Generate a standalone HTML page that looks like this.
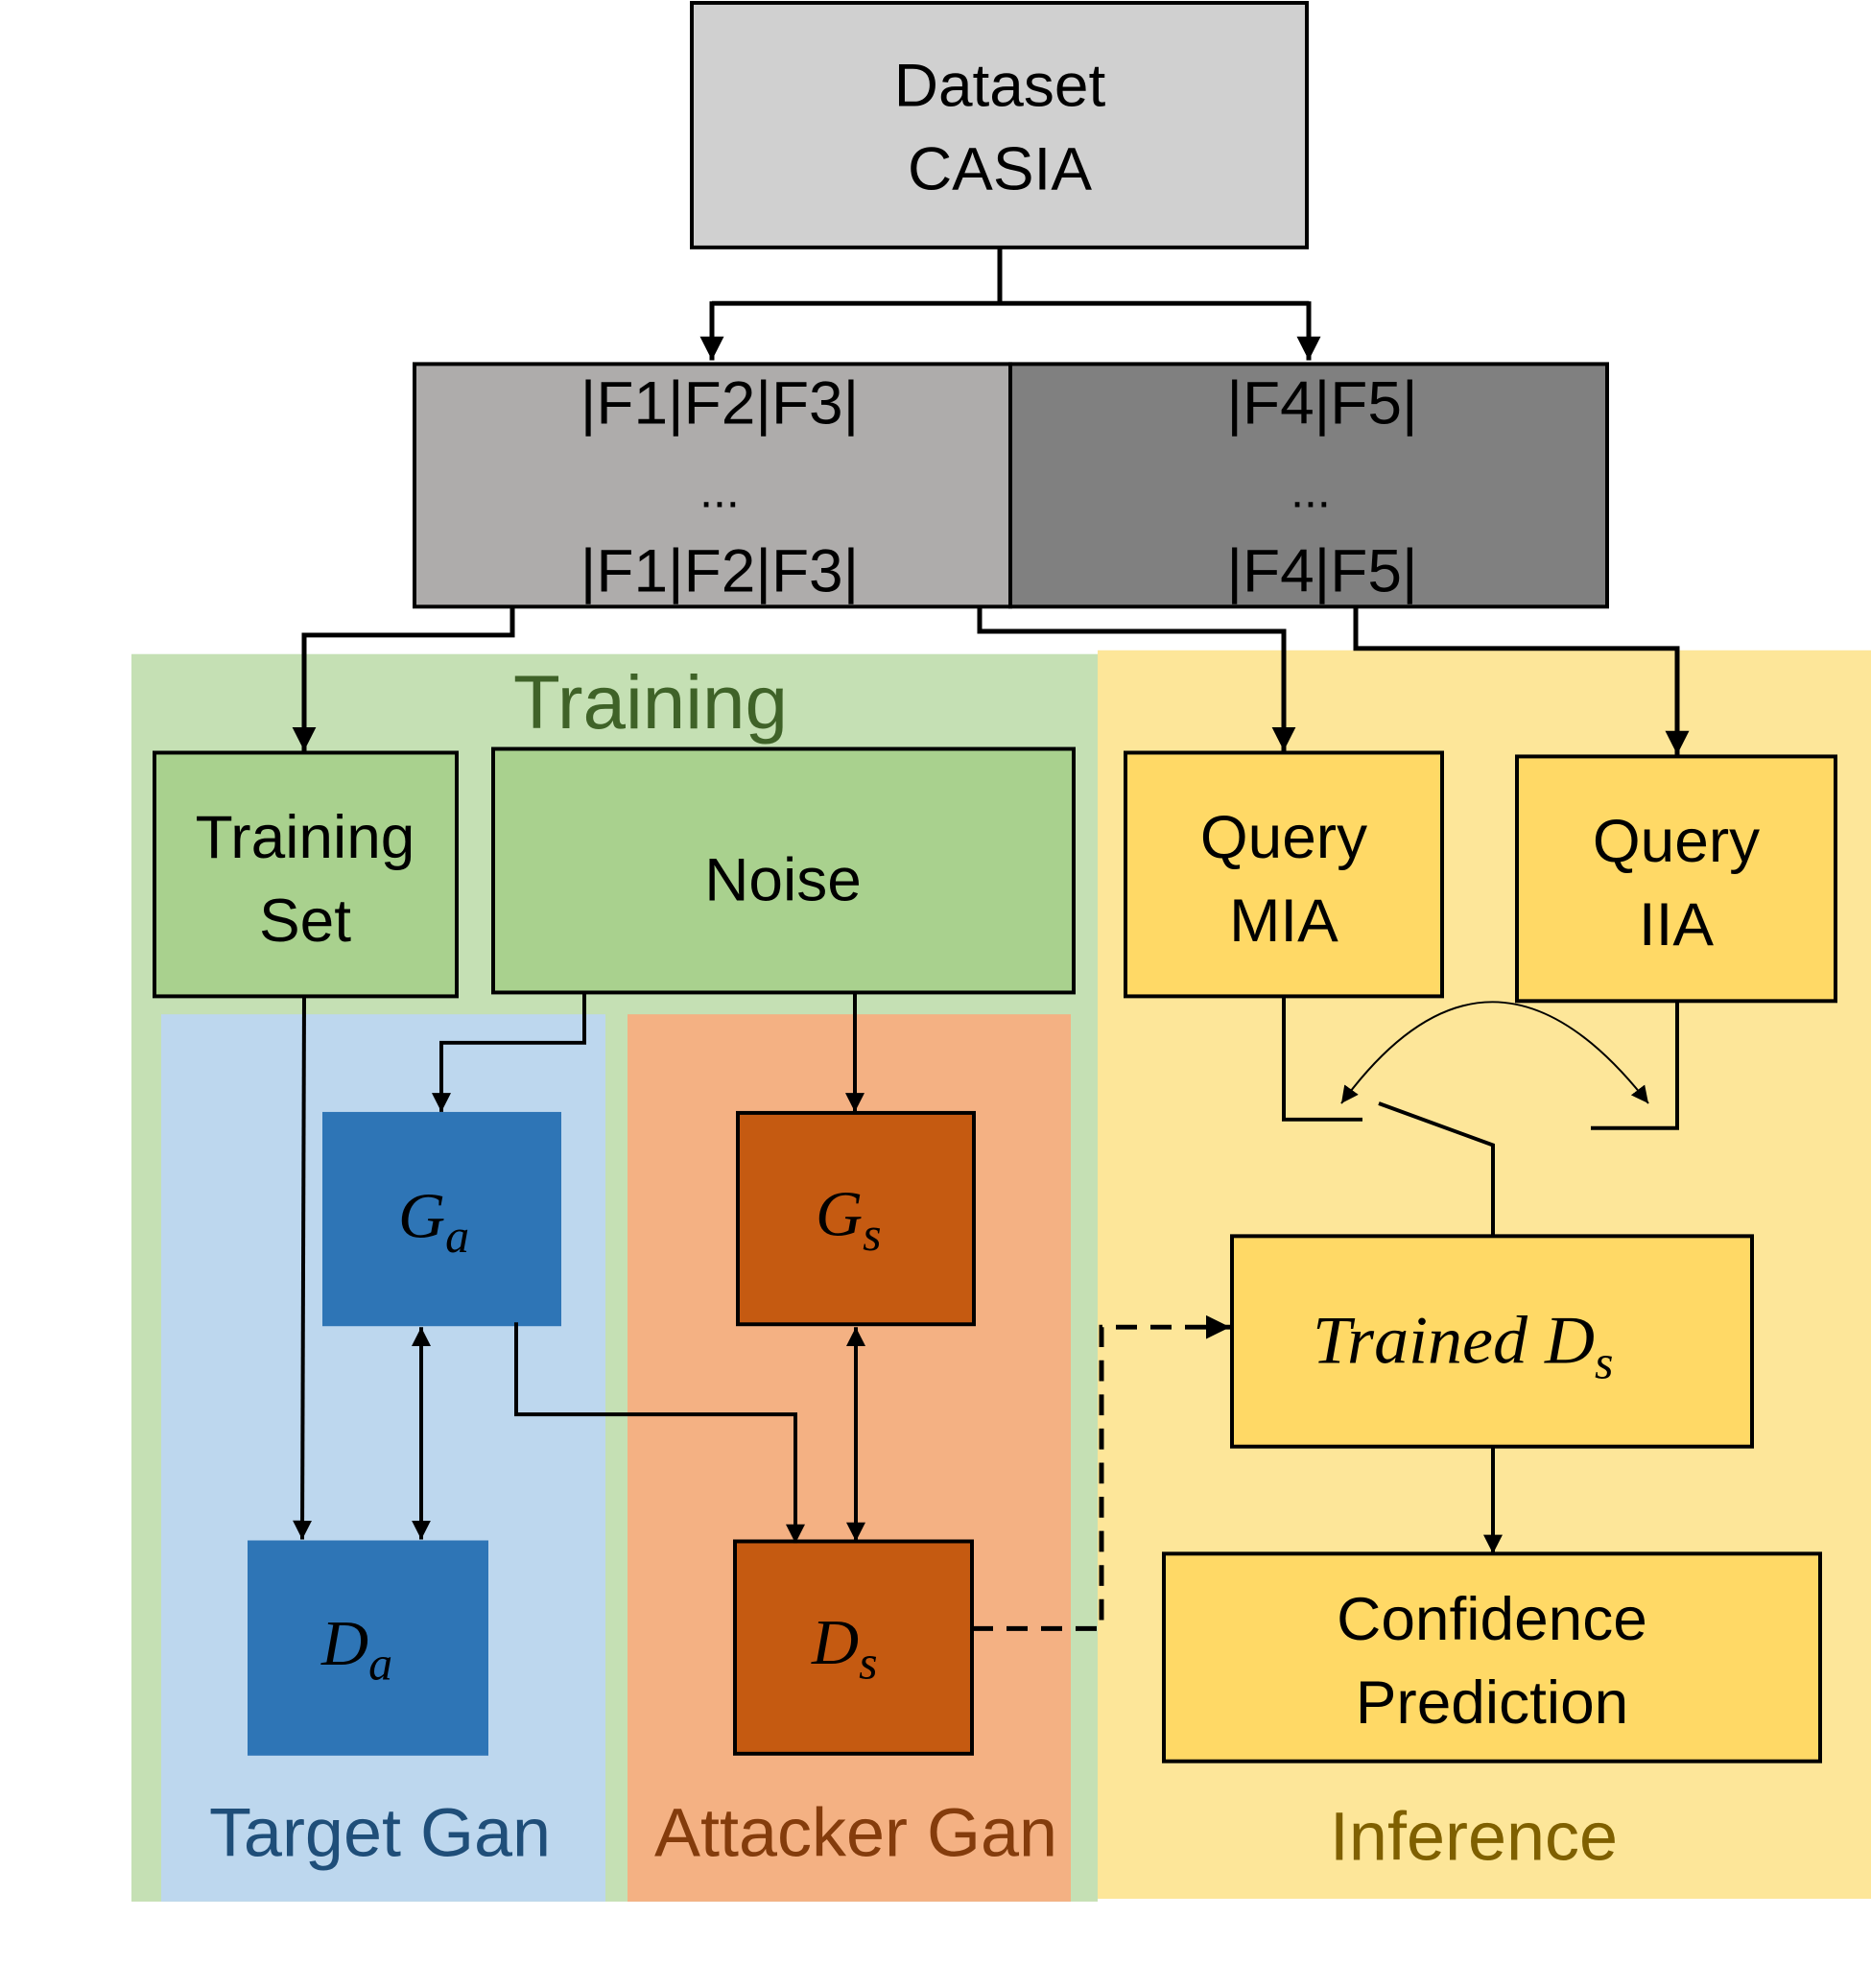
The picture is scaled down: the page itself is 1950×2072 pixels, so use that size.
<!DOCTYPE html>
<html><head><meta charset="utf-8"><style>
html,body{margin:0;padding:0;background:#fff}
svg{display:block}
text{font-family:"Liberation Sans",sans-serif}
.m{font-family:"Liberation Serif",serif;font-style:italic}
</style></head><body>
<svg width="1950" height="2072" viewBox="0 0 1950 2072" xmlns="http://www.w3.org/2000/svg">
<defs>
<marker id="a" viewBox="0 0 10 10" refX="10" refY="5" markerWidth="5" markerHeight="5" orient="auto-start-reverse"><path d="M0,0 L10,5 L0,10 z" fill="#000"/></marker>
<marker id="b" viewBox="0 0 10 10" refX="10" refY="5" markerWidth="9" markerHeight="9" orient="auto-start-reverse"><path d="M0,0 L10,5 L0,10 z" fill="#000"/></marker>
</defs>
<g transform="scale(1,0.988)">
<rect x="137" y="690" width="1007" height="1316" fill="#c5e0b4"/>
<rect x="1144" y="686" width="806" height="1317" fill="#fde699"/>
<rect x="168" y="1070" width="463" height="936" fill="#bdd7ee"/>
<rect x="654" y="1070" width="462" height="936" fill="#f4b183"/>

<rect x="721" y="3" width="641" height="258" fill="#d0d0d0" stroke="#000" stroke-width="4"/>
<text x="1042" y="112" font-size="64" text-anchor="middle">Dataset</text>
<text x="1042" y="200" font-size="64" text-anchor="middle">CASIA</text>

<rect x="432" y="384" width="621" height="256" fill="#aeacab" stroke="#000" stroke-width="4"/>
<rect x="1053" y="384" width="622" height="256" fill="#808080" stroke="#000" stroke-width="4"/>
<text x="750" y="447" font-size="64" text-anchor="middle">|F1|F2|F3|</text>
<text x="750" y="535" font-size="50" text-anchor="middle">...</text>
<text x="750" y="624" font-size="64" text-anchor="middle">|F1|F2|F3|</text>
<text x="1378" y="447" font-size="64" text-anchor="middle">|F4|F5|</text>
<text x="1366" y="535" font-size="50" text-anchor="middle">...</text>
<text x="1378" y="624" font-size="64" text-anchor="middle">|F4|F5|</text>

<g stroke="#000" stroke-width="5" fill="none">
<path d="M1042 261 V320 M742 320 H1364" />
<path d="M742 318 V380" marker-end="url(#a)"/>
<path d="M1364 318 V380" marker-end="url(#a)"/>
<path d="M534 640 V670 H317 V792" marker-end="url(#a)"/>
<path d="M1021 640 V666 H1338 V792" marker-end="url(#a)"/>
<path d="M1413 640 V684 H1748 V796" marker-end="url(#a)"/>
</g>

<text x="678" y="768" font-size="80" text-anchor="middle" fill="#3f6228">Training</text>

<rect x="161" y="794" width="315" height="257" fill="#a9d18e" stroke="#000" stroke-width="4"/>
<text x="318" y="905" font-size="64" text-anchor="middle">Training</text>
<text x="318" y="993" font-size="64" text-anchor="middle">Set</text>
<rect x="514" y="790" width="605" height="257" fill="#a9d18e" stroke="#000" stroke-width="4"/>
<text x="816" y="950" font-size="64" text-anchor="middle">Noise</text>

<rect x="1173" y="794" width="330" height="257" fill="#ffd966" stroke="#000" stroke-width="4"/>
<text x="1338" y="905" font-size="64" text-anchor="middle">Query</text>
<text x="1338" y="993" font-size="64" text-anchor="middle">MIA</text>
<rect x="1581" y="798" width="332" height="258" fill="#ffd966" stroke="#000" stroke-width="4"/>
<text x="1747" y="909" font-size="64" text-anchor="middle">Query</text>
<text x="1747" y="997" font-size="64" text-anchor="middle">IIA</text>

<rect x="336" y="1173" width="249" height="226" fill="#2e75b6"/>
<text class="m" x="415" y="1305" font-size="68">G<tspan font-size="50" dy="16">a</tspan></text>
<rect x="258" y="1625" width="251" height="227" fill="#2e75b6"/>
<text class="m" x="335" y="1756" font-size="68">D<tspan font-size="50" dy="16">a</tspan></text>
<rect x="769" y="1174" width="246" height="223" fill="#c55a11" stroke="#000" stroke-width="4"/>
<text class="m" x="850" y="1303" font-size="68">G<tspan font-size="50" dy="16">s</tspan></text>
<rect x="766" y="1626" width="247" height="224" fill="#c55a11" stroke="#000" stroke-width="4"/>
<text class="m" x="846" y="1755" font-size="68">D<tspan font-size="50" dy="16">s</tspan></text>

<g stroke="#000" stroke-width="4" fill="none">
<path d="M317 1051 L315 1624" marker-end="url(#a)"/>
<path d="M609 1047 V1100 H460 V1173" marker-end="url(#a)"/>
<path d="M891 1047 V1173" marker-end="url(#a)"/>
<path d="M439 1400 V1624" marker-start="url(#a)" marker-end="url(#a)"/>
<path d="M538 1395 V1492 H829 V1628" marker-end="url(#a)"/>
<path d="M892 1400 V1626" marker-start="url(#a)" marker-end="url(#a)"/>
<path d="M1556 1526 V1639" marker-end="url(#a)"/>
<path d="M1013 1718 H1148 V1400 H1282" stroke-dasharray="22,14" stroke-width="5" marker-end="url(#a)"/>
<path d="M1338 1051 V1181 H1420"/>
<path d="M1748 1056 V1190 H1658"/>
<path d="M1437 1164 L1556 1208 V1304"/>
<path d="M1398 1164 Q1553 950 1718 1164" stroke-width="2" marker-start="url(#b)" marker-end="url(#b)"/>
</g>

<rect x="1284" y="1304" width="542" height="222" fill="#ffd966" stroke="#000" stroke-width="4"/>
<text class="m" x="1368" y="1438" font-size="72">Trained D<tspan font-size="50" dy="16">s</tspan></text>
<rect x="1213" y="1639" width="684" height="219" fill="#ffd966" stroke="#000" stroke-width="4"/>
<text x="1555" y="1730" font-size="64" text-anchor="middle">Confidence</text>
<text x="1555" y="1818" font-size="64" text-anchor="middle">Prediction</text>

<text x="396" y="1958" font-size="72" text-anchor="middle" fill="#1f4e79">Target Gan</text>
<text x="892" y="1958" font-size="72" text-anchor="middle" fill="#843c0c">Attacker Gan</text>
<text x="1536" y="1962" font-size="72" text-anchor="middle" fill="#7f6000">Inference</text>
</g>
</svg>
</body></html>
